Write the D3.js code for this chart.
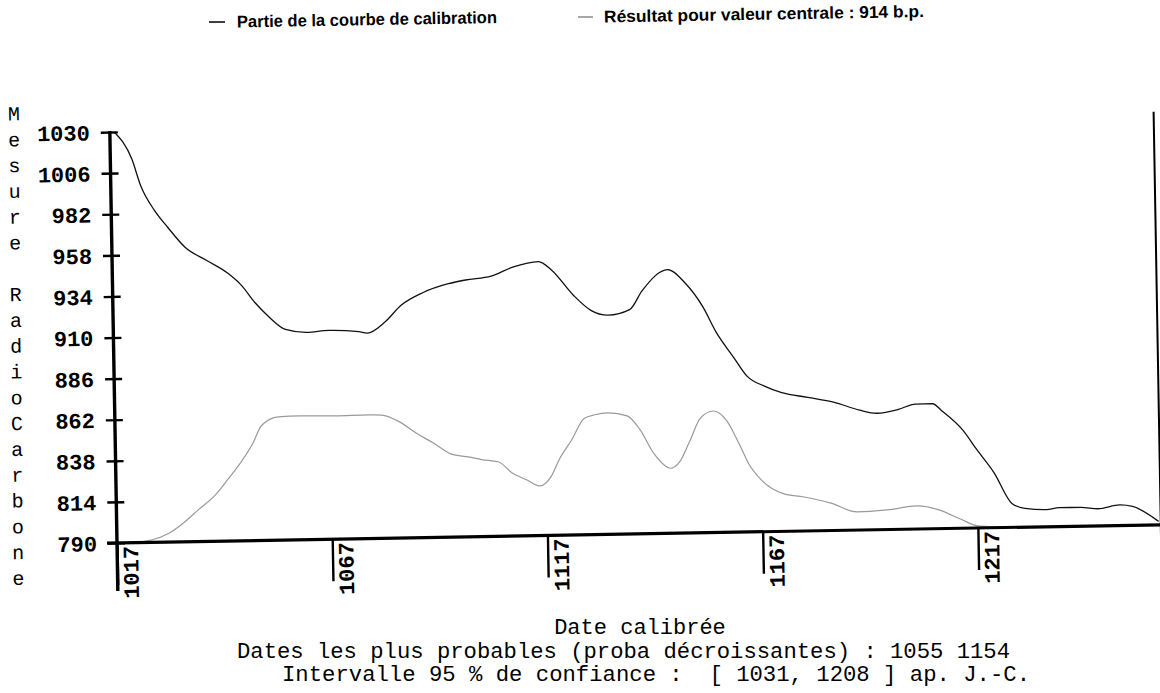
<!DOCTYPE html>
<html>
<head>
<meta charset="utf-8">
<script src="https://cdn.jsdelivr.net/npm/d3@7"></script>
<style>
  html, body { margin: 0; padding: 0; background: #fff; }
  svg { display: block; }
  text { white-space: pre; }
</style>
</head>
<body>
<svg id="chart" width="1160" height="693"></svg>
<script>
// Calibration curve segment: calendar year (AD) and radiocarbon age (b.p.)
const calYears = [1018, 1022, 1024, 1027, 1030, 1034, 1039, 1044, 1047, 1050, 1053, 1057, 1062, 1067,
  1074, 1076, 1080, 1084, 1089, 1095, 1099, 1105, 1110, 1116, 1119, 1124, 1128, 1132, 1137, 1140,
  1146, 1150, 1154, 1157, 1161, 1164, 1168, 1172, 1178, 1184, 1190, 1194, 1199, 1203, 1207, 1209,
  1214, 1217, 1221, 1225, 1228, 1233, 1236, 1241, 1245, 1250, 1253, 1259];
const calValues = [1030, 1014, 998, 984, 974, 962, 954, 946, 939, 929, 921, 913, 911, 912,
  911, 910, 916, 926, 933, 938, 940, 942, 947, 950, 945, 930, 921, 918, 921, 932,
  944, 936, 922, 907, 892, 881, 875, 871, 868, 865, 860, 858, 860, 863, 863, 859,
  847, 836, 822, 804, 801, 800, 801, 801, 800, 802, 801, 792];

// Calibrated probability profile for the 914 b.p. measurement (drawn on the same vertical scale)
const resYears = [1018, 1022, 1025, 1029, 1032, 1036, 1040, 1043, 1046, 1049, 1051, 1055, 1060, 1068,
  1076, 1079, 1083, 1087, 1091, 1095, 1099, 1102, 1106, 1109, 1112.5, 1115.5, 1118, 1120, 1123, 1126,
  1128.5, 1131.5, 1136, 1139, 1142, 1146, 1148, 1150.5, 1153, 1156, 1159, 1162, 1164, 1167, 1172,
  1176.5, 1183, 1189, 1196, 1203, 1208, 1213, 1217, 1222, 1226];
const resValues = [790, 790.4, 791.4, 795, 800, 808.5, 817, 826, 835.5, 847, 857, 862, 862.3, 862,
  862.2, 862, 858, 851, 845, 838.5, 836.7, 835, 833.4, 827, 822.6, 819, 824, 834, 845.5, 858,
  860, 861, 859, 850.6, 837, 828, 831.6, 844, 857, 861, 855.6, 841, 830, 820, 812,
  810, 806, 800.6, 801.5, 803.5, 801, 795.4, 791.2, 790.4, 790];

const yTicks = [790, 814, 838, 862, 886, 910, 934, 958, 982, 1006, 1030];
const xTicks = [1017, 1067, 1117, 1167, 1217];
const xEnd = 1259.5;

const yTitle = "Mesure RadioCarbone";
const legendLabels = ["Partie de la courbe de calibration", "Résultat pour valeur centrale : 914 b.p."];
const xTitle = "Date calibrée";
const probableDates = [1055, 1154];
const interval95 = [1031, 1208];

const svg = d3.select("#chart");
const MONO = "'Liberation Mono', 'Courier New', monospace";
const SANS = "'Liberation Sans', Arial, sans-serif";

// The printed sheet sits slightly tilted (counter-clockwise); everything inside `sheet` shares it.
const pivot = [117, 543];
const tilt = -1;
const a = -tilt * Math.PI / 180;
function loc(px, py) {
  const dx = px - pivot[0], dy = py - pivot[1];
  return [pivot[0] + dx * Math.cos(a) - dy * Math.sin(a),
          pivot[1] + dx * Math.sin(a) + dy * Math.cos(a)];
}
const sheet = svg.append("g").attr("transform", `rotate(${tilt},${pivot[0]},${pivot[1]})`);

const x = d3.scaleLinear().domain([1017, xEnd]).range([117, 117 + (xEnd - 1017) * 4.305]);
const y = d3.scaleLinear().domain([790, 1030]).range([543, 132]);
const y0 = y(790);

// ---- curves
const line = d3.line().x(d => x(d[0])).y(d => y(d[1])).curve(d3.curveMonotoneX);
sheet.append("path")
  .datum(resYears.map((t, i) => [t, resValues[i]]))
  .attr("d", line).attr("fill", "none")
  .attr("stroke", "#9a9a9a").attr("stroke-width", 1.2);
sheet.append("path")
  .datum(calYears.map((t, i) => [t, calValues[i]]))
  .attr("d", line).attr("fill", "none")
  .attr("stroke", "#111").attr("stroke-width", 1.3);

// ---- x axis (ticks hang below the baseline, labels read upward)
const xAxis = sheet.append("g").attr("transform", `translate(0,${y0})`)
  .call(d3.axisBottom(x).tickValues(xTicks).tickSize(42).tickSizeOuter(0).tickFormat(d3.format("d")));
xAxis.select(".domain").remove();
xAxis.selectAll(".tick line").attr("stroke", "#000").attr("stroke-width", 2.4);
xAxis.selectAll(".tick text")
  .attr("font-family", MONO).attr("font-weight", "bold").attr("font-size", 22)
  .attr("fill", "#000")
  .attr("text-anchor", "start").attr("dominant-baseline", "central")
  .attr("dy", null).attr("y", 0).attr("x", 0)
  .attr("transform", "translate(15,56) rotate(-90)");
sheet.append("line")
  .attr("x1", 107).attr("x2", x(xEnd) + 1).attr("y1", y0).attr("y2", y0)
  .attr("stroke", "#000").attr("stroke-width", 3.2);
// right-hand frame line
sheet.append("line")
  .attr("x1", x(xEnd)).attr("x2", x(xEnd)).attr("y1", y(1030) - 2).attr("y2", y0 + 42)
  .attr("stroke", "#000").attr("stroke-width", 2);

// ---- y axis (ticks cross the spine)
const yAxis = sheet.append("g").attr("transform", `translate(${x(1017)},0)`)
  .call(d3.axisLeft(y).tickValues(yTicks).tickSize(8).tickFormat(d3.format("d")));
yAxis.select(".domain").remove();
yAxis.selectAll(".tick line").attr("x1", 8).attr("x2", -9)
  .attr("stroke", "#000").attr("stroke-width", 2.4);
yAxis.selectAll(".tick text")
  .attr("font-family", MONO).attr("font-weight", "bold").attr("font-size", 22)
  .attr("fill", "#000").attr("x", -20).attr("dy", "0.34em").attr("text-anchor", "end");
sheet.append("line")
  .attr("x1", x(1017)).attr("x2", x(1017)).attr("y1", y(1030) - 1).attr("y2", y0 + 48)
  .attr("stroke", "#000").attr("stroke-width", 3.4);

// ---- vertical axis title, one letter per row
yTitle.split("").forEach((ch, i) => {
  if (ch === " ") return;
  const p = loc(14 + i * 0.25, 115 + i * 25.8);
  sheet.append("text").attr("x", p[0]).attr("y", p[1])
    .attr("font-family", MONO).attr("font-size", 20).attr("fill", "#000")
    .attr("text-anchor", "middle").attr("dominant-baseline", "central")
    .text(ch);
});

// ---- legend
const legendItems = [
  { label: legendLabels[0], dash: [209, 225], start: 237, cy: 22, width: 260, color: "#000" },
  { label: legendLabels[1], dash: [578, 593], start: 604, cy: 17, width: 320, color: "#8a8a8a" }
];
legendItems.forEach(d => {
  const p1 = loc(d.dash[0], d.cy), p2 = loc(d.dash[1], d.cy);
  sheet.append("line").attr("x1", p1[0]).attr("y1", p1[1]).attr("x2", p2[0]).attr("y2", p2[1])
    .attr("stroke", d.color).attr("stroke-width", 1.6);
  const t = loc(d.start, d.cy);
  sheet.append("text").attr("x", t[0]).attr("y", t[1])
    .attr("font-family", SANS).attr("font-weight", "bold").attr("font-size", 17)
    .attr("fill", "#000").attr("dominant-baseline", "central")
    .attr("textLength", d.width).attr("lengthAdjust", "spacingAndGlyphs")
    .text(d.label);
});

// ---- caption under the chart
const caption = svg.append("g").attr("font-family", MONO).attr("font-size", 22).attr("fill", "#000");
caption.append("text").attr("x", 640).attr("y", 634).attr("text-anchor", "middle").text(xTitle);
caption.append("text").attr("x", 237).attr("y", 658)
  .attr("textLength", 773).attr("lengthAdjust", "spacingAndGlyphs")
  .text(`Dates les plus probables (proba décroissantes) : ${probableDates.join(" ")}`);
caption.append("text").attr("x", 282).attr("y", 681)
  .attr("textLength", 748).attr("lengthAdjust", "spacingAndGlyphs")
  .text(`Intervalle 95 % de confiance :  [ ${interval95[0]}, ${interval95[1]} ] ap. J.-C.`);
</script>
</body>
</html>
